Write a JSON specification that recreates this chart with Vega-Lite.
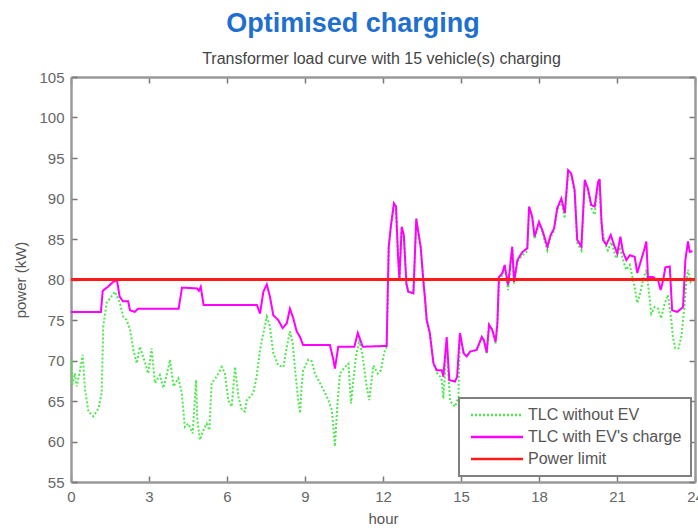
{
  "$schema": "https://vega.github.io/schema/vega-lite/v6.json",
  "width": 624,
  "height": 405,
  "autosize": {"type": "none"},
  "padding": {"left": 71, "top": 77, "right": 3, "bottom": 46},
  "background": "white",
  "title": {
    "text": "Optimised charging",
    "anchor": "middle",
    "dx": -30,
    "font": "Liberation Sans",
    "fontSize": 27,
    "fontWeight": "bold",
    "color": "#1f6fd0",
    "offset": 12
  },
  "datasets": {
    "tlc": [
      {"series": "TLC without EV", "hour": 0, "power": 70.0},
      {"series": "TLC without EV", "hour": 0.05, "power": 67.0},
      {"series": "TLC without EV", "hour": 0.15, "power": 68.4},
      {"series": "TLC without EV", "hour": 0.22, "power": 66.8},
      {"series": "TLC without EV", "hour": 0.33, "power": 68.5},
      {"series": "TLC without EV", "hour": 0.45, "power": 70.7},
      {"series": "TLC without EV", "hour": 0.54, "power": 66.4},
      {"series": "TLC without EV", "hour": 0.67, "power": 63.7},
      {"series": "TLC without EV", "hour": 0.86, "power": 63.1},
      {"series": "TLC without EV", "hour": 1.06, "power": 64.1},
      {"series": "TLC without EV", "hour": 1.18, "power": 66.0},
      {"series": "TLC without EV", "hour": 1.24, "power": 74.2},
      {"series": "TLC without EV", "hour": 1.37, "power": 77.1},
      {"series": "TLC without EV", "hour": 1.69, "power": 78.5},
      {"series": "TLC without EV", "hour": 1.88, "power": 77.1},
      {"series": "TLC without EV", "hour": 2.01, "power": 75.4},
      {"series": "TLC without EV", "hour": 2.14, "power": 75.0},
      {"series": "TLC without EV", "hour": 2.27, "power": 73.8},
      {"series": "TLC without EV", "hour": 2.4, "power": 71.3},
      {"series": "TLC without EV", "hour": 2.53, "power": 69.65},
      {"series": "TLC without EV", "hour": 2.65, "power": 71.7},
      {"series": "TLC without EV", "hour": 2.85, "power": 69.7},
      {"series": "TLC without EV", "hour": 2.97, "power": 68.4},
      {"series": "TLC without EV", "hour": 3.1, "power": 71.5},
      {"series": "TLC without EV", "hour": 3.23, "power": 67.2},
      {"series": "TLC without EV", "hour": 3.42, "power": 68.2},
      {"series": "TLC without EV", "hour": 3.55, "power": 66.6},
      {"series": "TLC without EV", "hour": 3.68, "power": 68.2},
      {"series": "TLC without EV", "hour": 3.81, "power": 70.1},
      {"series": "TLC without EV", "hour": 3.94, "power": 66.8},
      {"series": "TLC without EV", "hour": 4.13, "power": 67.8},
      {"series": "TLC without EV", "hour": 4.26, "power": 66.0},
      {"series": "TLC without EV", "hour": 4.38, "power": 61.8},
      {"series": "TLC without EV", "hour": 4.51, "power": 62.2},
      {"series": "TLC without EV", "hour": 4.68, "power": 61.0},
      {"series": "TLC without EV", "hour": 4.81, "power": 67.6},
      {"series": "TLC without EV", "hour": 4.86, "power": 62.65},
      {"series": "TLC without EV", "hour": 4.96, "power": 60.2},
      {"series": "TLC without EV", "hour": 5.09, "power": 61.4},
      {"series": "TLC without EV", "hour": 5.22, "power": 62.2},
      {"series": "TLC without EV", "hour": 5.32, "power": 61.4},
      {"series": "TLC without EV", "hour": 5.41, "power": 67.2},
      {"series": "TLC without EV", "hour": 5.6, "power": 68.0},
      {"series": "TLC without EV", "hour": 5.8, "power": 69.2},
      {"series": "TLC without EV", "hour": 5.92, "power": 68.4},
      {"series": "TLC without EV", "hour": 6.05, "power": 65.1},
      {"series": "TLC without EV", "hour": 6.18, "power": 64.3},
      {"series": "TLC without EV", "hour": 6.31, "power": 69.2},
      {"series": "TLC without EV", "hour": 6.44, "power": 65.5},
      {"series": "TLC without EV", "hour": 6.57, "power": 63.9},
      {"series": "TLC without EV", "hour": 6.69, "power": 63.7},
      {"series": "TLC without EV", "hour": 6.76, "power": 65.1},
      {"series": "TLC without EV", "hour": 6.88, "power": 65.5},
      {"series": "TLC without EV", "hour": 7.01, "power": 66.0},
      {"series": "TLC without EV", "hour": 7.14, "power": 68.0},
      {"series": "TLC without EV", "hour": 7.27, "power": 71.3},
      {"series": "TLC without EV", "hour": 7.4, "power": 73.4},
      {"series": "TLC without EV", "hour": 7.53, "power": 75.4},
      {"series": "TLC without EV", "hour": 7.65, "power": 74.2},
      {"series": "TLC without EV", "hour": 7.78, "power": 70.9},
      {"series": "TLC without EV", "hour": 7.97, "power": 69.4},
      {"series": "TLC without EV", "hour": 8.17, "power": 69.2},
      {"series": "TLC without EV", "hour": 8.29, "power": 71.5},
      {"series": "TLC without EV", "hour": 8.42, "power": 73.6},
      {"series": "TLC without EV", "hour": 8.53, "power": 72.1},
      {"series": "TLC without EV", "hour": 8.62, "power": 68.8},
      {"series": "TLC without EV", "hour": 8.74, "power": 65.1},
      {"series": "TLC without EV", "hour": 8.81, "power": 63.5},
      {"series": "TLC without EV", "hour": 8.87, "power": 66.8},
      {"series": "TLC without EV", "hour": 8.93, "power": 68.8},
      {"series": "TLC without EV", "hour": 9.13, "power": 70.1},
      {"series": "TLC without EV", "hour": 9.26, "power": 69.9},
      {"series": "TLC without EV", "hour": 9.38, "power": 68.4},
      {"series": "TLC without EV", "hour": 9.58, "power": 67.2},
      {"series": "TLC without EV", "hour": 9.77, "power": 66.0},
      {"series": "TLC without EV", "hour": 9.9, "power": 65.1},
      {"series": "TLC without EV", "hour": 10.03, "power": 63.9},
      {"series": "TLC without EV", "hour": 10.09, "power": 61.8},
      {"series": "TLC without EV", "hour": 10.15, "power": 59.4},
      {"series": "TLC without EV", "hour": 10.24, "power": 64.3},
      {"series": "TLC without EV", "hour": 10.35, "power": 68.4},
      {"series": "TLC without EV", "hour": 10.54, "power": 69.2},
      {"series": "TLC without EV", "hour": 10.67, "power": 69.6},
      {"series": "TLC without EV", "hour": 10.77, "power": 64.7},
      {"series": "TLC without EV", "hour": 10.86, "power": 67.6},
      {"series": "TLC without EV", "hour": 10.96, "power": 70.5},
      {"series": "TLC without EV", "hour": 11.09, "power": 72.5},
      {"series": "TLC without EV", "hour": 11.22, "power": 70.5},
      {"series": "TLC without EV", "hour": 11.35, "power": 67.2},
      {"series": "TLC without EV", "hour": 11.47, "power": 65.1},
      {"series": "TLC without EV", "hour": 11.63, "power": 69.4},
      {"series": "TLC without EV", "hour": 11.8, "power": 68.4},
      {"series": "TLC without EV", "hour": 11.92, "power": 68.8},
      {"series": "TLC without EV", "hour": 12.05, "power": 71.0},
      {"series": "TLC without EV", "hour": 12.14, "power": 71.7},
      {"series": "TLC without EV", "hour": 12.22, "power": 84.0},
      {"series": "TLC without EV", "hour": 12.3, "power": 86.5},
      {"series": "TLC without EV", "hour": 12.42, "power": 89.4},
      {"series": "TLC without EV", "hour": 12.5, "power": 89.0},
      {"series": "TLC without EV", "hour": 12.57, "power": 83.5},
      {"series": "TLC without EV", "hour": 12.63, "power": 80.0},
      {"series": "TLC without EV", "hour": 12.72, "power": 86.5},
      {"series": "TLC without EV", "hour": 12.8, "power": 85.5},
      {"series": "TLC without EV", "hour": 12.9, "power": 79.5},
      {"series": "TLC without EV", "hour": 12.97, "power": 78.5},
      {"series": "TLC without EV", "hour": 13.17, "power": 78.3},
      {"series": "TLC without EV", "hour": 13.28, "power": 87.5},
      {"series": "TLC without EV", "hour": 13.35, "power": 86.0},
      {"series": "TLC without EV", "hour": 13.45, "power": 84.0},
      {"series": "TLC without EV", "hour": 13.55, "power": 79.9},
      {"series": "TLC without EV", "hour": 13.62, "power": 77.5},
      {"series": "TLC without EV", "hour": 13.68, "power": 75.0},
      {"series": "TLC without EV", "hour": 13.8, "power": 73.4},
      {"series": "TLC without EV", "hour": 13.94, "power": 69.65},
      {"series": "TLC without EV", "hour": 14.07, "power": 68.5},
      {"series": "TLC without EV", "hour": 14.2, "power": 68.0},
      {"series": "TLC without EV", "hour": 14.26, "power": 67.6},
      {"series": "TLC without EV", "hour": 14.32, "power": 65.3},
      {"series": "TLC without EV", "hour": 14.45, "power": 71.5},
      {"series": "TLC without EV", "hour": 14.58, "power": 65.0},
      {"series": "TLC without EV", "hour": 14.77, "power": 64.3},
      {"series": "TLC without EV", "hour": 14.9, "power": 65.5},
      {"series": "TLC without EV", "hour": 14.96, "power": 73.2},
      {"series": "TLC without EV", "hour": 15.1, "power": 70.9},
      {"series": "TLC without EV", "hour": 15.22, "power": 70.5},
      {"series": "TLC without EV", "hour": 15.35, "power": 71.1},
      {"series": "TLC without EV", "hour": 15.6, "power": 71.3},
      {"series": "TLC without EV", "hour": 15.8, "power": 72.9},
      {"series": "TLC without EV", "hour": 15.88, "power": 72.5},
      {"series": "TLC without EV", "hour": 15.99, "power": 70.8},
      {"series": "TLC without EV", "hour": 16.08, "power": 74.4},
      {"series": "TLC without EV", "hour": 16.2, "power": 73.8},
      {"series": "TLC without EV", "hour": 16.33, "power": 72.1},
      {"series": "TLC without EV", "hour": 16.4, "power": 74.4},
      {"series": "TLC without EV", "hour": 16.46, "power": 80.0},
      {"series": "TLC without EV", "hour": 16.59, "power": 80.5},
      {"series": "TLC without EV", "hour": 16.68, "power": 81.5},
      {"series": "TLC without EV", "hour": 16.81, "power": 78.7},
      {"series": "TLC without EV", "hour": 16.97, "power": 83.8},
      {"series": "TLC without EV", "hour": 17.04, "power": 79.5},
      {"series": "TLC without EV", "hour": 17.17, "power": 82.2},
      {"series": "TLC without EV", "hour": 17.36, "power": 83.0},
      {"series": "TLC without EV", "hour": 17.55, "power": 83.5},
      {"series": "TLC without EV", "hour": 17.62, "power": 88.7},
      {"series": "TLC without EV", "hour": 17.74, "power": 87.5},
      {"series": "TLC without EV", "hour": 17.83, "power": 85.0},
      {"series": "TLC without EV", "hour": 18.0, "power": 86.8},
      {"series": "TLC without EV", "hour": 18.13, "power": 85.8},
      {"series": "TLC without EV", "hour": 18.32, "power": 83.6},
      {"series": "TLC without EV", "hour": 18.45, "power": 85.2},
      {"series": "TLC without EV", "hour": 18.58, "power": 86.0},
      {"series": "TLC without EV", "hour": 18.7, "power": 88.5},
      {"series": "TLC without EV", "hour": 18.86, "power": 89.7},
      {"series": "TLC without EV", "hour": 18.99, "power": 87.55},
      {"series": "TLC without EV", "hour": 19.12, "power": 93.2},
      {"series": "TLC without EV", "hour": 19.24, "power": 92.8},
      {"series": "TLC without EV", "hour": 19.37, "power": 90.7},
      {"series": "TLC without EV", "hour": 19.47, "power": 84.5},
      {"series": "TLC without EV", "hour": 19.63, "power": 83.6},
      {"series": "TLC without EV", "hour": 19.76, "power": 92.0},
      {"series": "TLC without EV", "hour": 19.88, "power": 90.9},
      {"series": "TLC without EV", "hour": 20.01, "power": 88.8},
      {"series": "TLC without EV", "hour": 20.14, "power": 88.0},
      {"series": "TLC without EV", "hour": 20.27, "power": 91.7},
      {"series": "TLC without EV", "hour": 20.33, "power": 92.0},
      {"series": "TLC without EV", "hour": 20.4, "power": 87.0},
      {"series": "TLC without EV", "hour": 20.53, "power": 84.5},
      {"series": "TLC without EV", "hour": 20.65, "power": 83.6},
      {"series": "TLC without EV", "hour": 20.78, "power": 84.6},
      {"series": "TLC without EV", "hour": 20.97, "power": 82.6},
      {"series": "TLC without EV", "hour": 21.1, "power": 84.0},
      {"series": "TLC without EV", "hour": 21.27, "power": 82.0},
      {"series": "TLC without EV", "hour": 21.36, "power": 81.2},
      {"series": "TLC without EV", "hour": 21.49, "power": 81.8},
      {"series": "TLC without EV", "hour": 21.62, "power": 79.9},
      {"series": "TLC without EV", "hour": 21.68, "power": 79.1},
      {"series": "TLC without EV", "hour": 21.78, "power": 77.1},
      {"series": "TLC without EV", "hour": 21.87, "power": 78.1},
      {"series": "TLC without EV", "hour": 22.0, "power": 79.9},
      {"series": "TLC without EV", "hour": 22.13, "power": 81.2},
      {"series": "TLC without EV", "hour": 22.26, "power": 77.5},
      {"series": "TLC without EV", "hour": 22.32, "power": 75.8},
      {"series": "TLC without EV", "hour": 22.45, "power": 76.6},
      {"series": "TLC without EV", "hour": 22.58, "power": 76.4},
      {"series": "TLC without EV", "hour": 22.7, "power": 75.2},
      {"series": "TLC without EV", "hour": 22.83, "power": 77.0},
      {"series": "TLC without EV", "hour": 22.96, "power": 78.1},
      {"series": "TLC without EV", "hour": 23.09, "power": 75.0},
      {"series": "TLC without EV", "hour": 23.15, "power": 72.9},
      {"series": "TLC without EV", "hour": 23.24, "power": 71.5},
      {"series": "TLC without EV", "hour": 23.37, "power": 71.5},
      {"series": "TLC without EV", "hour": 23.47, "power": 72.9},
      {"series": "TLC without EV", "hour": 23.58, "power": 76.2},
      {"series": "TLC without EV", "hour": 23.67, "power": 79.9},
      {"series": "TLC without EV", "hour": 23.73, "power": 81.2},
      {"series": "TLC without EV", "hour": 23.83, "power": 79.7},
      {"series": "TLC without EV", "hour": 23.9, "power": 80.0},

      {"series": "TLC with EV's charge", "hour": 0, "power": 76.0},
      {"series": "TLC with EV's charge", "hour": 1.15, "power": 76.0},
      {"series": "TLC with EV's charge", "hour": 1.22, "power": 78.6},
      {"series": "TLC with EV's charge", "hour": 1.42, "power": 79.1},
      {"series": "TLC with EV's charge", "hour": 1.62, "power": 79.7},
      {"series": "TLC with EV's charge", "hour": 1.77, "power": 79.9},
      {"series": "TLC with EV's charge", "hour": 1.87, "power": 77.9},
      {"series": "TLC with EV's charge", "hour": 2.0, "power": 77.3},
      {"series": "TLC with EV's charge", "hour": 2.2, "power": 77.3},
      {"series": "TLC with EV's charge", "hour": 2.27, "power": 76.2},
      {"series": "TLC with EV's charge", "hour": 2.45, "power": 76.0},
      {"series": "TLC with EV's charge", "hour": 2.58, "power": 76.4},
      {"series": "TLC with EV's charge", "hour": 4.14, "power": 76.4},
      {"series": "TLC with EV's charge", "hour": 4.27, "power": 79.0},
      {"series": "TLC with EV's charge", "hour": 4.85, "power": 78.9},
      {"series": "TLC with EV's charge", "hour": 4.92, "power": 78.6},
      {"series": "TLC with EV's charge", "hour": 4.99, "power": 79.1},
      {"series": "TLC with EV's charge", "hour": 5.1, "power": 76.85},
      {"series": "TLC with EV's charge", "hour": 7.15, "power": 76.85},
      {"series": "TLC with EV's charge", "hour": 7.27, "power": 75.8},
      {"series": "TLC with EV's charge", "hour": 7.4, "power": 78.5},
      {"series": "TLC with EV's charge", "hour": 7.53, "power": 79.4},
      {"series": "TLC with EV's charge", "hour": 7.65, "power": 77.9},
      {"series": "TLC with EV's charge", "hour": 7.78, "power": 75.6},
      {"series": "TLC with EV's charge", "hour": 7.97, "power": 75.0},
      {"series": "TLC with EV's charge", "hour": 8.14, "power": 74.0},
      {"series": "TLC with EV's charge", "hour": 8.3, "power": 74.6},
      {"series": "TLC with EV's charge", "hour": 8.42, "power": 76.4},
      {"series": "TLC with EV's charge", "hour": 8.55, "power": 75.2},
      {"series": "TLC with EV's charge", "hour": 8.68, "power": 73.6},
      {"series": "TLC with EV's charge", "hour": 8.81, "power": 72.9},
      {"series": "TLC with EV's charge", "hour": 8.93, "power": 71.9},
      {"series": "TLC with EV's charge", "hour": 9.96, "power": 71.9},
      {"series": "TLC with EV's charge", "hour": 10.09, "power": 70.1},
      {"series": "TLC with EV's charge", "hour": 10.15, "power": 69.0},
      {"series": "TLC with EV's charge", "hour": 10.28, "power": 71.7},
      {"series": "TLC with EV's charge", "hour": 10.9, "power": 71.7},
      {"series": "TLC with EV's charge", "hour": 11.03, "power": 73.4},
      {"series": "TLC with EV's charge", "hour": 11.22, "power": 71.7},
      {"series": "TLC with EV's charge", "hour": 12.14, "power": 71.8},
      {"series": "TLC with EV's charge", "hour": 12.22, "power": 84.0},
      {"series": "TLC with EV's charge", "hour": 12.3, "power": 86.5},
      {"series": "TLC with EV's charge", "hour": 12.42, "power": 89.4},
      {"series": "TLC with EV's charge", "hour": 12.5, "power": 89.0},
      {"series": "TLC with EV's charge", "hour": 12.57, "power": 83.5},
      {"series": "TLC with EV's charge", "hour": 12.63, "power": 80.0},
      {"series": "TLC with EV's charge", "hour": 12.72, "power": 86.5},
      {"series": "TLC with EV's charge", "hour": 12.8, "power": 85.5},
      {"series": "TLC with EV's charge", "hour": 12.9, "power": 79.5},
      {"series": "TLC with EV's charge", "hour": 12.97, "power": 78.5},
      {"series": "TLC with EV's charge", "hour": 13.17, "power": 78.3},
      {"series": "TLC with EV's charge", "hour": 13.28, "power": 87.5},
      {"series": "TLC with EV's charge", "hour": 13.35, "power": 86.0},
      {"series": "TLC with EV's charge", "hour": 13.45, "power": 84.0},
      {"series": "TLC with EV's charge", "hour": 13.55, "power": 79.9},
      {"series": "TLC with EV's charge", "hour": 13.62, "power": 77.5},
      {"series": "TLC with EV's charge", "hour": 13.68, "power": 75.0},
      {"series": "TLC with EV's charge", "hour": 13.8, "power": 73.4},
      {"series": "TLC with EV's charge", "hour": 13.94, "power": 69.65},
      {"series": "TLC with EV's charge", "hour": 14.07, "power": 68.8},
      {"series": "TLC with EV's charge", "hour": 14.26, "power": 68.8},
      {"series": "TLC with EV's charge", "hour": 14.32, "power": 68.0},
      {"series": "TLC with EV's charge", "hour": 14.45, "power": 72.9},
      {"series": "TLC with EV's charge", "hour": 14.55, "power": 67.6},
      {"series": "TLC with EV's charge", "hour": 14.77, "power": 67.4},
      {"series": "TLC with EV's charge", "hour": 14.85, "power": 68.0},
      {"series": "TLC with EV's charge", "hour": 14.96, "power": 73.4},
      {"series": "TLC with EV's charge", "hour": 15.1, "power": 70.9},
      {"series": "TLC with EV's charge", "hour": 15.22, "power": 70.5},
      {"series": "TLC with EV's charge", "hour": 15.35, "power": 71.1},
      {"series": "TLC with EV's charge", "hour": 15.6, "power": 71.3},
      {"series": "TLC with EV's charge", "hour": 15.8, "power": 72.9},
      {"series": "TLC with EV's charge", "hour": 15.88, "power": 72.5},
      {"series": "TLC with EV's charge", "hour": 15.99, "power": 71.0},
      {"series": "TLC with EV's charge", "hour": 16.08, "power": 74.4},
      {"series": "TLC with EV's charge", "hour": 16.2, "power": 73.8},
      {"series": "TLC with EV's charge", "hour": 16.33, "power": 72.3},
      {"series": "TLC with EV's charge", "hour": 16.4, "power": 74.6},
      {"series": "TLC with EV's charge", "hour": 16.46, "power": 80.3},
      {"series": "TLC with EV's charge", "hour": 16.59, "power": 80.8},
      {"series": "TLC with EV's charge", "hour": 16.68, "power": 81.8},
      {"series": "TLC with EV's charge", "hour": 16.81, "power": 79.3},
      {"series": "TLC with EV's charge", "hour": 16.97, "power": 84.05},
      {"series": "TLC with EV's charge", "hour": 17.04, "power": 79.7},
      {"series": "TLC with EV's charge", "hour": 17.17, "power": 82.4},
      {"series": "TLC with EV's charge", "hour": 17.36, "power": 83.4},
      {"series": "TLC with EV's charge", "hour": 17.55, "power": 83.85},
      {"series": "TLC with EV's charge", "hour": 17.62, "power": 89.0},
      {"series": "TLC with EV's charge", "hour": 17.74, "power": 87.75},
      {"series": "TLC with EV's charge", "hour": 17.83, "power": 85.3},
      {"series": "TLC with EV's charge", "hour": 18.0, "power": 87.1},
      {"series": "TLC with EV's charge", "hour": 18.13, "power": 86.1},
      {"series": "TLC with EV's charge", "hour": 18.32, "power": 84.05},
      {"series": "TLC with EV's charge", "hour": 18.45, "power": 85.5},
      {"series": "TLC with EV's charge", "hour": 18.58, "power": 86.3},
      {"series": "TLC with EV's charge", "hour": 18.7, "power": 88.8},
      {"series": "TLC with EV's charge", "hour": 18.86, "power": 90.0},
      {"series": "TLC with EV's charge", "hour": 18.99, "power": 88.2},
      {"series": "TLC with EV's charge", "hour": 19.12, "power": 93.5},
      {"series": "TLC with EV's charge", "hour": 19.24, "power": 93.1},
      {"series": "TLC with EV's charge", "hour": 19.37, "power": 91.05},
      {"series": "TLC with EV's charge", "hour": 19.47, "power": 84.9},
      {"series": "TLC with EV's charge", "hour": 19.63, "power": 84.05},
      {"series": "TLC with EV's charge", "hour": 19.76, "power": 92.3},
      {"series": "TLC with EV's charge", "hour": 19.88, "power": 91.25},
      {"series": "TLC with EV's charge", "hour": 20.01, "power": 89.2},
      {"series": "TLC with EV's charge", "hour": 20.14, "power": 89.0},
      {"series": "TLC with EV's charge", "hour": 20.27, "power": 92.0},
      {"series": "TLC with EV's charge", "hour": 20.33, "power": 92.4},
      {"series": "TLC with EV's charge", "hour": 20.4, "power": 87.35},
      {"series": "TLC with EV's charge", "hour": 20.46, "power": 84.9},
      {"series": "TLC with EV's charge", "hour": 20.59, "power": 84.3},
      {"series": "TLC with EV's charge", "hour": 20.76, "power": 85.5},
      {"series": "TLC with EV's charge", "hour": 20.88, "power": 84.3},
      {"series": "TLC with EV's charge", "hour": 21.01, "power": 83.2},
      {"series": "TLC with EV's charge", "hour": 21.13, "power": 85.3},
      {"series": "TLC with EV's charge", "hour": 21.23, "power": 83.4},
      {"series": "TLC with EV's charge", "hour": 21.36, "power": 82.4},
      {"series": "TLC with EV's charge", "hour": 21.49, "power": 83.0},
      {"series": "TLC with EV's charge", "hour": 21.68, "power": 82.8},
      {"series": "TLC with EV's charge", "hour": 21.78, "power": 80.8},
      {"series": "TLC with EV's charge", "hour": 21.91, "power": 82.2},
      {"series": "TLC with EV's charge", "hour": 22.04, "power": 83.6},
      {"series": "TLC with EV's charge", "hour": 22.13, "power": 84.7},
      {"series": "TLC with EV's charge", "hour": 22.19, "power": 80.3},
      {"series": "TLC with EV's charge", "hour": 22.38, "power": 80.3},
      {"series": "TLC with EV's charge", "hour": 22.58, "power": 79.9},
      {"series": "TLC with EV's charge", "hour": 22.68, "power": 78.7},
      {"series": "TLC with EV's charge", "hour": 22.78, "power": 80.0},
      {"series": "TLC with EV's charge", "hour": 22.86, "power": 81.5},
      {"series": "TLC with EV's charge", "hour": 23.03, "power": 81.6},
      {"series": "TLC with EV's charge", "hour": 23.12, "power": 76.2},
      {"series": "TLC with EV's charge", "hour": 23.32, "power": 76.0},
      {"series": "TLC with EV's charge", "hour": 23.54, "power": 76.6},
      {"series": "TLC with EV's charge", "hour": 23.63, "power": 82.4},
      {"series": "TLC with EV's charge", "hour": 23.73, "power": 84.7},
      {"series": "TLC with EV's charge", "hour": 23.8, "power": 83.4},
      {"series": "TLC with EV's charge", "hour": 23.9, "power": 83.5},

      {"series": "Power limit", "hour": 0, "power": 80},
      {"series": "Power limit", "hour": 24, "power": 80}
    ]
  },
  "data": {"name": "tlc"},
  "config": {
    "font": "Liberation Sans",
    "view": {"stroke": null},
    "axis": {
      "grid": false,
      "domainColor": "#999",
      "domainWidth": 2.5,
      "tickColor": "#777",
      "tickWidth": 1.5,
      "tickSize": -6,
      "labelFont": "Liberation Sans",
      "labelFontSize": 15,
      "labelColor": "#666",
      "labelPadding": 13,
      "labelFlush": false,
      "titleFont": "Liberation Sans",
      "titleFontSize": 15,
      "titleFontWeight": "normal",
      "titleColor": "#555"
    },
    "legend": {
      "orient": "none",
      "legendX": 388,
      "legendY": 321,
      "strokeColor": "#808080",
      "strokeWidth": 2,
      "fillColor": "white",
      "padding": 9,
      "symbolType": "M-1,0H9.4",
      "symbolSize": 100,
      "symbolStrokeWidth": 2.5,
      "labelFont": "Liberation Sans",
      "labelFontSize": 16,
      "labelColor": "#555",
      "labelOffset": 44,
      "rowPadding": 6
    }
  },
  "encoding": {
    "x": {"field": "hour", "type": "quantitative", "scale": {"domain": [0, 24], "nice": false, "zero": false}},
    "y": {"field": "power", "type": "quantitative", "scale": {"domain": [55, 105], "nice": false, "zero": false}},
    "color": {
      "field": "series", "type": "nominal", "title": null,
      "scale": {"domain": ["TLC without EV", "TLC with EV's charge", "Power limit"], "range": ["#4fe84f", "#ff00ff", "#ff1a1a"]}
    },
    "strokeDash": {
      "field": "series", "type": "nominal", "title": null,
      "scale": {"domain": ["TLC without EV", "TLC with EV's charge", "Power limit"], "range": [[2, 2], [1, 0], [1, 0]]}
    }
  },
  "layer": [
    {
      "transform": [{"filter": {"field": "series", "equal": "TLC without EV"}}],
      "mark": {"type": "line", "strokeWidth": 2},
      "encoding": {
        "x": {"field": "hour", "type": "quantitative", "axis": {"orient": "bottom", "values": [0, 3, 6, 9, 12, 15, 18, 21, 24], "title": "hour", "titlePadding": 7}},
        "y": {"field": "power", "type": "quantitative", "axis": {"orient": "left", "values": [55, 60, 65, 70, 75, 80, 85, 90, 95, 100, 105], "title": "power (kW)", "titlePadding": 10}}
      }
    },
    {
      "transform": [{"filter": {"field": "series", "equal": "TLC with EV's charge"}}],
      "mark": {"type": "line", "strokeWidth": 2},
      "encoding": {
        "x": {"field": "hour", "type": "quantitative", "axis": null},
        "y": {"field": "power", "type": "quantitative", "axis": null}
      }
    },
    {
      "transform": [{"filter": {"field": "series", "equal": "Power limit"}}],
      "mark": {"type": "line", "strokeWidth": 3},
      "encoding": {
        "x": {"field": "hour", "type": "quantitative", "axis": {"orient": "top", "values": [0, 3, 6, 9, 12, 15, 18, 21, 24], "labels": false, "title": "Transformer load curve with 15 vehicle(s) charging", "titleFontSize": 16, "titleColor": "#444", "titlePadding": 10, "titleX": 310}},
        "y": {"field": "power", "type": "quantitative", "axis": {"orient": "right", "values": [55, 60, 65, 70, 75, 80, 85, 90, 95, 100, 105], "labels": false, "title": null}}
      }
    }
  ],
  "resolve": {"axis": {"x": "independent", "y": "independent"}}
}
